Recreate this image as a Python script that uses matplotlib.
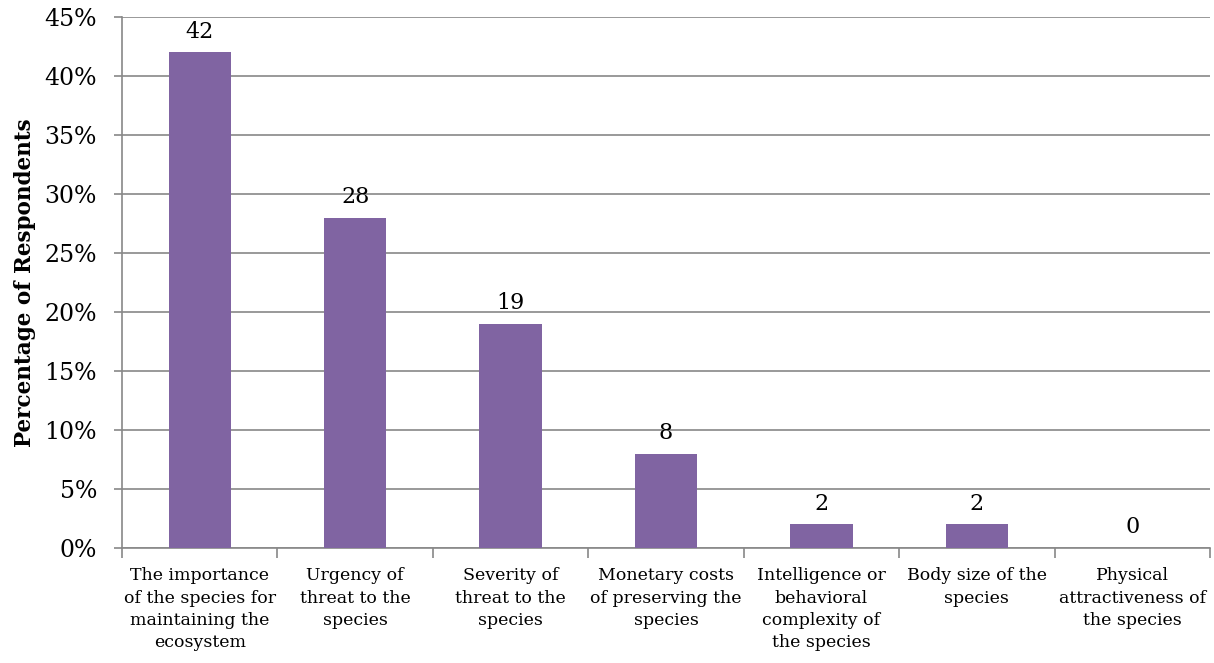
import matplotlib
matplotlib.use("Agg")
import matplotlib.pyplot as plt
from matplotlib.ticker import FuncFormatter, FixedLocator, NullFormatter
import numpy as np

categories = [
    "The importance\nof the species for\nmaintaining the\necosystem",
    "Urgency of\nthreat to the\nspecies",
    "Severity of\nthreat to the\nspecies",
    "Monetary costs\nof preserving the\nspecies",
    "Intelligence or\nbehavioral\ncomplexity of\nthe species",
    "Body size of the\nspecies",
    "Physical\nattractiveness of\nthe species",
]
percent = [42, 28, 19, 8, 2, 2, 0]

plt.rcParams["font.family"] = ["DejaVu Serif"]

fig = plt.figure(figsize=(12.14, 6.63), dpi=100)
ax = fig.add_axes([0.1005, 0.1735, 0.8962, 0.8009])

x = np.arange(len(categories))
ax.bar(x, percent, width=0.4, color="#8064A2", zorder=3)

for xi, v in zip(x, percent):
    ax.annotate(str(v), (xi, v), xytext=(0, 7), textcoords="offset points",
                ha="center", va="bottom", fontsize=16)

ax.set_xlim(-0.5, len(categories) - 0.5)
ax.set_ylim(0, 45)
ax.set_yticks(np.arange(0, 46, 5))
ax.yaxis.set_major_formatter(FuncFormatter(lambda v, _: f"{int(v)}%"))
ax.tick_params(axis="y", labelsize=17, length=6, color="#888888", width=1.2, pad=12)
ax.grid(axis="y", color="#888888", linewidth=1.2, zorder=0)

# category labels centred, ticks on the boundaries
ax.set_xticks(x)
ax.set_xticklabels(categories, fontsize=12.5, linespacing=1.4)
ax.tick_params(axis="x", which="major", length=0, pad=14)
ax.xaxis.set_minor_locator(FixedLocator(np.arange(-0.5, len(categories), 1)))
ax.xaxis.set_minor_formatter(NullFormatter())
ax.tick_params(axis="x", which="minor", length=7, color="#888888", width=1.2)

for side in ["top", "right"]:
    ax.spines[side].set_visible(False)
for side in ["left", "bottom"]:
    ax.spines[side].set_color("#888888")
    ax.spines[side].set_linewidth(1.2)

ax.set_ylabel("Percentage of Respondents", fontsize=15.5, fontweight="bold", labelpad=6)

fig.savefig("out.png", dpi=100)
plt.close(fig)
